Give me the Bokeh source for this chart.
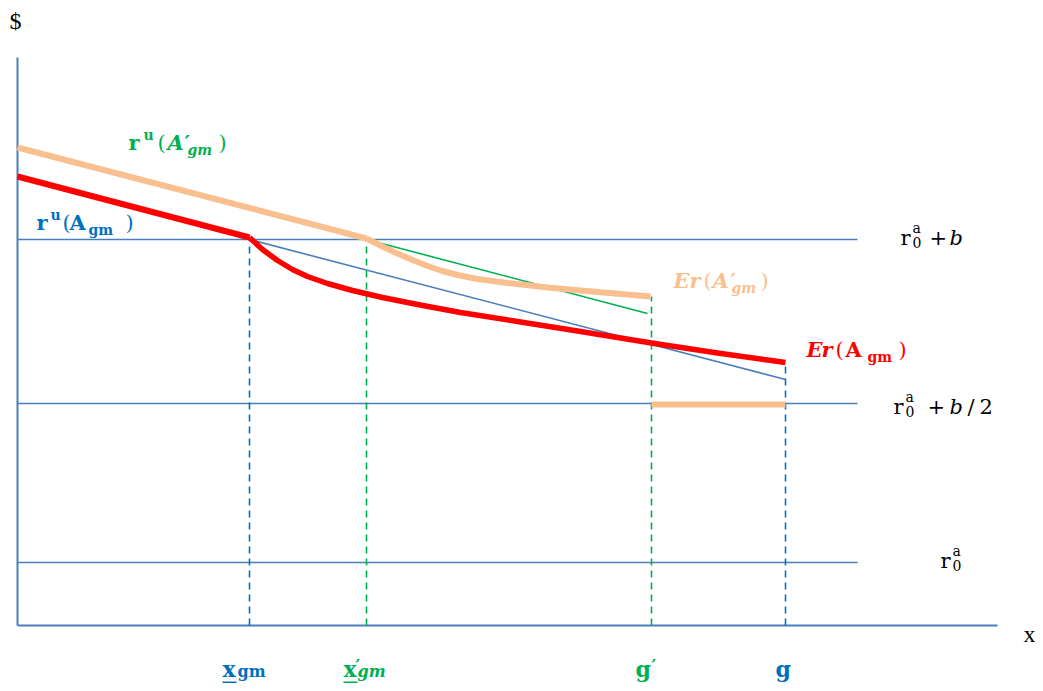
from bokeh.plotting import figure
from bokeh.models import Range1d
from bokeh.core.properties import value
from bokeh.embed import file_html
from bokeh.resources import INLINE

# ---------------- data (diagram units: x to the right, $ upward) ----------------
axis_x_end = 980
axis_y_end = 568
level_names = ["r0a", "r0a+b/2", "r0a+b"]
level_vals = [63, 222, 386]
level_x_end = 840

x_gm, x_gm_p, g_p, g_ = 232, 349, 634, 768

# r^u(A'_gm) and Er(A'_gm)  (peach)
ru_Ap_x = [0, 349]
ru_Ap_y = [478, 387]
er_Ap_x = [349, 365, 380, 395, 410, 425, 440, 460, 490, 530, 580, 633]
er_Ap_y = [387, 379, 372, 365.5, 359.5, 354.5, 350.5, 346.5, 342.5, 338, 333.5, 329]
er_Ap_low_x = [634, 768]
er_Ap_low_y = [221, 221]

# r^u(A_gm) and Er(A_gm)  (red)
ru_A_x = [0, 232]
ru_A_y = [449, 388]
er_A_x = [232, 245, 260, 275, 290, 310, 335, 365, 400, 443, 500, 560, 634, 700, 768]
er_A_y = [388, 376, 365, 356, 349, 342, 335, 328, 321, 313, 304, 294.5, 282.5, 272.5, 263]

# thin chords
blue_x = [232, 768]
blue_y = [386, 246]
green_x = [349, 630]
green_y = [386, 312]

# dashed verticals: x position, top, colour key
dash_x = [x_gm, x_gm_p, g_p, g_]
dash_top = [386, 386, 329, 263]
dash_col = ["blue", "green", "green", "blue"]

# ---------------- styling ----------------
AX = "#4A7EBB"
BLUE = "#0070C0"
GREEN = "#00B050"
PEACH = "#F9BF8F"
RED = "#FF0000"
COL = {"blue": BLUE, "green": GREEN}
SERIF = "DejaVu Serif"
TIMES = "Liberation Serif"

p = figure(width=1035, height=683, output_backend="svg", toolbar_location=None,
           x_range=Range1d(-17, 1018), y_range=Range1d(-58, 625),
           min_border=0, outline_line_color=None)
p.axis.visible = False
p.grid.visible = False

# axes
p.line([0, axis_x_end], [0, 0], line_color=AX, line_width=2)
p.line([0, 0], [0, axis_y_end], line_color=AX, line_width=2)

# horizontal levels
for v in level_vals:
    p.line([0, level_x_end], [v, v], line_color=AX, line_width=1.6)

# chords
p.line(blue_x, blue_y, line_color=AX, line_width=1.6)
p.line(green_x, green_y, line_color=GREEN, line_width=1.6)

# dashed verticals
for xv, top, c in zip(dash_x, dash_top, dash_col):
    p.line([xv, xv], [0, top], line_color=COL[c], line_width=1.6, line_dash="7 5")

# peach curves
p.line(ru_Ap_x, ru_Ap_y, line_color=PEACH, line_width=6)
p.line(er_Ap_x, er_Ap_y, line_color=PEACH, line_width=6, line_join="round")
p.line(er_Ap_low_x, er_Ap_low_y, line_color=PEACH, line_width=6)

# red curves
p.line(ru_A_x, ru_A_y, line_color=RED, line_width=6)
p.line(er_A_x, er_A_y, line_color=RED, line_width=5.5, line_join="round")

DY = 8  # baseline correction for text placement


def t(x, y, s, size, color="black", style="normal", font=SERIF):
    p.text(x=[x], y=[y + DY], text=[s], text_font=value(font), text_font_size=f"{size}px",
           text_color=color, text_font_style=style, text_align="left",
           text_baseline="alphabetic")


M, S = 21, 14

# axis titles
t(-8, 597, "$", 24, font=TIMES)
t(1006, -16, "x", 24, font=TIMES)

# r^u(A_gm)  blue
t(19, 395, "r", M, BLUE, "bold")
t(33, 403, "u", S, BLUE, "bold")
t(45, 395, "(", M, BLUE)
t(52, 395, "A", M, BLUE, "bold")
t(71, 388, "gm", S, BLUE, "bold")
t(108, 395, ")", M, BLUE)

# r^u(A'_gm)  green
t(111, 475, "r", M, GREEN, "bold")
t(126, 483, "u", S, GREEN, "bold")
t(140, 475, "(", M, GREEN)
t(150, 475, "A", M, GREEN, "bold italic")
t(167, 475, "\u2032", M, GREEN, "bold")
t(170, 468, "gm", S, GREEN, "bold italic")
t(201, 475, ")", M, GREEN)

# Er(A'_gm)  peach
t(656, 337, "E", M, PEACH, "bold italic")
t(672, 337, "r", M, PEACH, "bold italic")
t(686, 337, "(", M, PEACH)
t(695, 337, "A", M, PEACH, "bold italic")
t(713, 337, "\u2032", M, PEACH, "bold")
t(714, 330, "gm", S, PEACH, "bold italic")
t(743, 337, ")", M, PEACH)

# Er(A_gm)  red
t(789, 268, "E", M, RED, "bold italic")
t(804, 268, "r", M, RED, "bold italic")
t(818, 268, "(", M, RED)
t(828, 268, "A", M, RED, "bold")
t(850, 261, "gm", S, RED, "bold")
t(881, 268, ")", M, RED)


# level labels (black)
def rlabel(x, y):
    t(x, y, "r", M)
    t(x + 12, y + 10, "a", S)
    t(x + 12, y - 5, "0", S)


rlabel(883, 380)
t(912, 380, "+", M)
t(932, 380, "b", M, style="italic")

rlabel(876, 211)
t(910, 211, "+", M)
t(932, 211, "b", M, style="italic")
t(950, 211, "/", M)
t(962, 211, "2", M)

rlabel(923, 57)

# x-axis point labels
BY = -51
t(205, BY, "x", 22, BLUE, "bold")
t(220, BY - 3, "gm", 16, BLUE, "bold")
p.line([205, 219], [-57, -57], line_color=BLUE, line_width=2)

t(326, BY, "x", 22, GREEN, "bold")
t(338, BY + 2, "\u2032", 18, GREEN, "bold")
t(340, BY - 3, "gm", 16, GREEN, "bold italic")
p.line([326, 340], [-57, -57], line_color=GREEN, line_width=2)

t(618, BY, "g", 22, GREEN, "bold")
t(634, BY + 2, "\u2032", 18, GREEN, "bold")

t(758, BY, "g", 22, BLUE, "bold")

open("out.html", "w").write(file_html(p, INLINE))
